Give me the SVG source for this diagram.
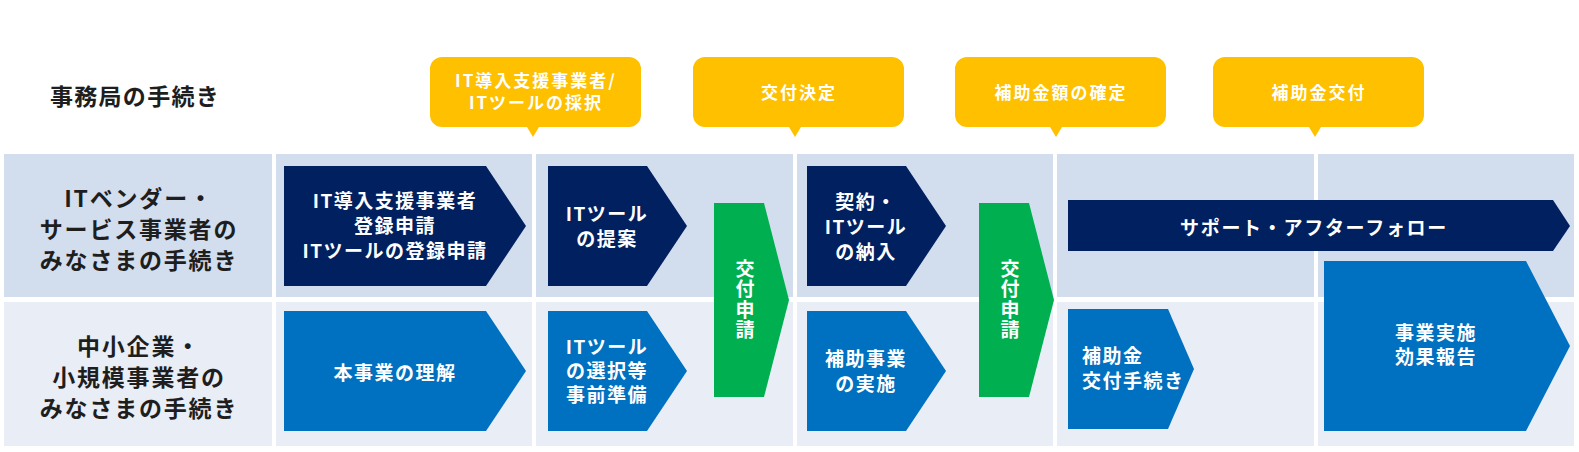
<svg xmlns="http://www.w3.org/2000/svg" width="1579" height="452" viewBox="0 0 1579 452">
<style>
text{font-family:"Noto Sans CJK JP","Noto Sans",sans-serif;font-weight:bold;dominant-baseline:central}
.hdr{font-size:23px;letter-spacing:1.3px;fill:#1e1e1e;text-anchor:middle}
.lbl{font-size:23px;letter-spacing:1.8px;fill:#1e1e1e;text-anchor:middle}
.wt{font-size:19px;letter-spacing:1.5px;fill:#fff;text-anchor:middle}
.wl{font-size:19px;letter-spacing:1.5px;fill:#fff;text-anchor:start}
.ct{font-size:17px;letter-spacing:2px;fill:#fff;text-anchor:middle}
.gt{font-size:19px;letter-spacing:1.5px;fill:#fff;text-anchor:middle;writing-mode:vertical-rl}
.r1{fill:#D2DDEE}
.r2{fill:#E8EDF6}
.navy{fill:#002060}
.blue{fill:#0070C0}
.green{fill:#00B050}
.gold{fill:#FFC000}
</style>
<rect width="1579" height="452" fill="#fff"/>

<g id="header">
<text class="hdr" x="135" y="95">事務局の手続き</text>
</g>

<g id="lanes">
<rect class="r1" x="4" y="154" width="268" height="143"/>
<rect class="r1" x="276" y="154" width="256" height="143"/>
<rect class="r1" x="536" y="154" width="257" height="143"/>
<rect class="r1" x="797" y="154" width="256" height="143"/>
<rect class="r1" x="1057" y="154" width="257" height="143"/>
<rect class="r1" x="1318" y="154" width="256" height="143"/>
<rect class="r2" x="4" y="302" width="268" height="144"/>
<rect class="r2" x="276" y="302" width="256" height="144"/>
<rect class="r2" x="536" y="302" width="257" height="144"/>
<rect class="r2" x="797" y="302" width="256" height="144"/>
<rect class="r2" x="1057" y="302" width="257" height="144"/>
<rect class="r2" x="1318" y="302" width="256" height="144"/>
</g>

<g id="lane-label-vendor">
<text class="lbl"><tspan x="139" y="197">ITベンダー・</tspan><tspan x="139" y="228">サービス事業者の</tspan><tspan x="139" y="259">みなさまの手続き</tspan></text>
</g>
<g id="lane-label-sme">
<text class="lbl"><tspan x="139" y="344.5">中小企業・</tspan><tspan x="139" y="375.5">小規模事業者の</tspan><tspan x="139" y="406.5">みなさまの手続き</tspan></text>
</g>

<g id="callout-selection">
<path class="gold" d="M442,57 H629 A12 12 0 0 1 641,69 V115 A12 12 0 0 1 629,127 H539 L533,137 L527,127 H442 A12 12 0 0 1 430,115 V69 A12 12 0 0 1 442,57 Z"/>
<text class="ct"><tspan x="536" y="79">IT導入支援事業者/</tspan><tspan x="536" y="101">ITツールの採択</tspan></text>
</g>
<g id="callout-decision">
<path class="gold" d="M705,57 H892 A12 12 0 0 1 904,69 V115 A12 12 0 0 1 892,127 H801 L795,137 L789,127 H705 A12 12 0 0 1 693,115 V69 A12 12 0 0 1 705,57 Z"/>
<text class="ct" x="799" y="91">交付決定</text>
</g>
<g id="callout-amount">
<path class="gold" d="M967,57 H1154 A12 12 0 0 1 1166,69 V115 A12 12 0 0 1 1154,127 H1062 L1056,137 L1050,127 H967 A12 12 0 0 1 955,115 V69 A12 12 0 0 1 967,57 Z"/>
<text class="ct" x="1061" y="91">補助金額の確定</text>
</g>
<g id="callout-payment">
<path class="gold" d="M1225,57 H1412 A12 12 0 0 1 1424,69 V115 A12 12 0 0 1 1412,127 H1321 L1315,137 L1309,127 H1225 A12 12 0 0 1 1213,115 V69 A12 12 0 0 1 1225,57 Z"/>
<text class="ct" x="1319" y="91">補助金交付</text>
</g>

<g id="vendor-registration">
<polygon class="navy" points="284,166 486,166 526,226 486,286 284,286"/>
<text class="wt"><tspan x="395" y="199">IT導入支援事業者</tspan><tspan x="395" y="224">登録申請</tspan><tspan x="395" y="249">ITツールの登録申請</tspan></text>
</g>
<g id="vendor-proposal">
<polygon class="navy" points="548,166 647,166 687,226 647,286 548,286"/>
<text class="wt"><tspan x="607" y="211.5">ITツール</tspan><tspan x="607" y="236.5">の提案</tspan></text>
</g>
<g id="vendor-contract">
<polygon class="navy" points="807,166 906,166 946,226 906,286 807,286"/>
<text class="wt"><tspan x="866" y="200">契約・</tspan><tspan x="866" y="225">ITツール</tspan><tspan x="866" y="250">の納入</tspan></text>
</g>
<g id="vendor-support">
<polygon class="navy" points="1068,200 1553,200 1570,226 1553,251 1068,251"/>
<text class="wt" x="1314" y="226" style="letter-spacing:1.7px">サポート・アフターフォロー</text>
</g>

<g id="sme-understanding">
<polygon class="blue" points="284,311 486,311 526,371 486,431 284,431"/>
<text class="wt" x="395" y="371">本事業の理解</text>
</g>
<g id="sme-preparation">
<polygon class="blue" points="548,311 647,311 687,371 647,431 548,431"/>
<text class="wt"><tspan x="607" y="345">ITツール</tspan><tspan x="607" y="369">の選択等</tspan><tspan x="607" y="393">事前準備</tspan></text>
</g>
<g id="sme-implementation">
<polygon class="blue" points="807,311 906,311 946,371 906,431 807,431"/>
<text class="wt"><tspan x="866" y="357">補助事業</tspan><tspan x="866" y="382">の実施</tspan></text>
</g>
<g id="sme-grant-procedure">
<polygon class="blue" points="1068,309 1168,309 1194,369 1168,429 1068,429"/>
<text class="wl"><tspan x="1082" y="354">補助金</tspan><tspan x="1082" y="379">交付手続き</tspan></text>
</g>
<g id="sme-report">
<polygon class="blue" points="1324,261 1526,261 1570,346 1526,431 1324,431"/>
<text class="wt"><tspan x="1436" y="331">事業実施</tspan><tspan x="1436" y="355">効果報告</tspan></text>
</g>

<g id="application-1">
<polygon class="green" points="714,203 764,203 789,300 764,397 714,397"/>
<text class="gt" x="745" y="300">交付申請</text>
</g>
<g id="application-2">
<polygon class="green" points="979,203 1029,203 1054,300 1029,397 979,397"/>
<text class="gt" x="1010" y="300">交付申請</text>
</g>

<g id="connectors"></g>
</svg>
